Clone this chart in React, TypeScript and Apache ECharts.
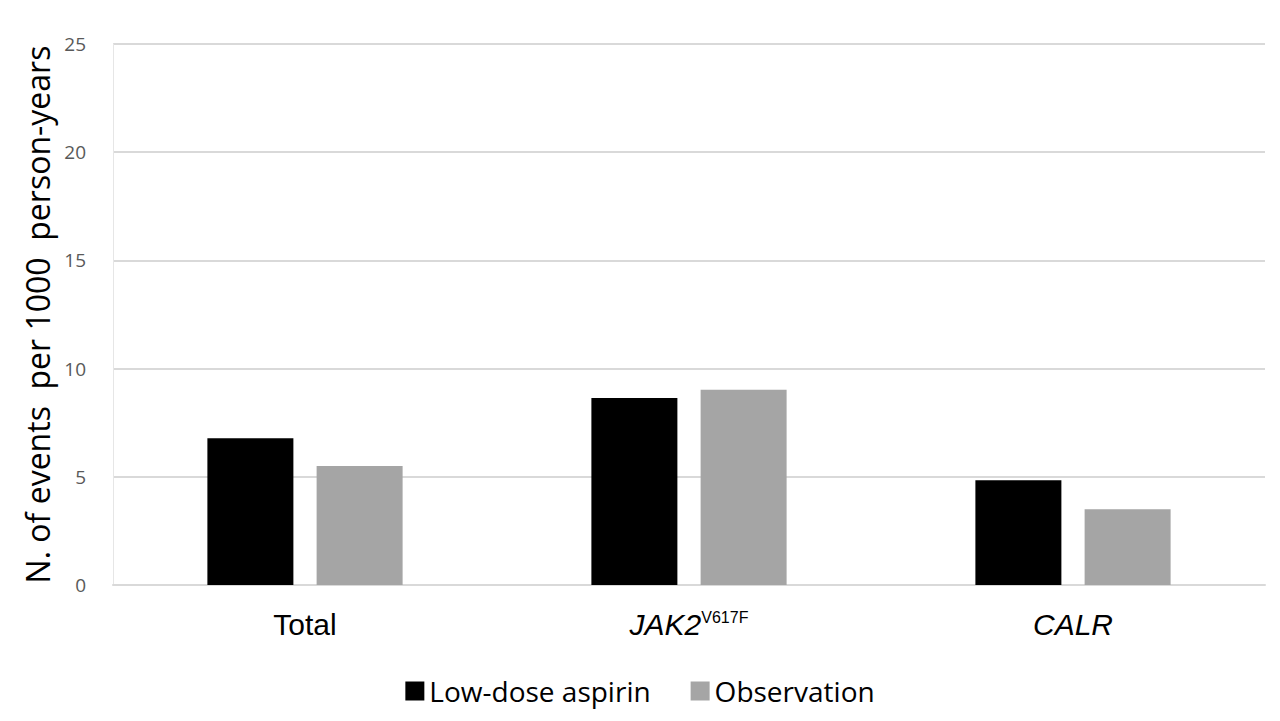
import React, { useEffect, useRef } from "react";
import * as echarts from "echarts";

const categories = ["Total", "JAK2", "CALR"];
const aspirin = [6.78, 8.64, 4.84];
const observation = [5.5, 9.02, 3.5];
const seriesNames = ["Low-dose aspirin", "Observation"];
const yTicks = { min: 0, max: 25, interval: 5 };
const yName = "N. of events  per 1000  person-years";

export default function App() {
  const ref = useRef<HTMLDivElement>(null);
  useEffect(() => {
    if (!ref.current) return;
    const chart = echarts.init(ref.current, null, { renderer: "svg" });
    chart.setOption({
      animation: false,
      backgroundColor: "#ffffff",
      grid: { left: 113, right: 15, top: 44, bottom: 136 },
      legend: {
        data: seriesNames,
        top: 672,
        left: "center",
        icon: "rect",
        itemWidth: 19,
        itemHeight: 19,
        itemGap: 40,
        textStyle: { fontFamily: "Open Sans", fontSize: 28, color: "#000" },
      },
      xAxis: {
        type: "category",
        data: categories,
        axisLine: { lineStyle: { color: "#d9d9d9", width: 2 } },
        axisTick: { show: false },
        axisLabel: {
          margin: 24,
          formatter: (v: string) => {
            if (v === "JAK2") return "{i|JAK2}{sup|V617F}";
            if (v === "CALR") return "{i|CALR}";
            return "{n|" + v + "}";
          },
          rich: {
            n: { fontFamily: "Liberation Sans", fontSize: 30, color: "#000" },
            i: { fontFamily: "Liberation Sans", fontStyle: "italic", fontSize: 30, color: "#000" },
            sup: { fontFamily: "Liberation Sans", fontSize: 16, color: "#000", verticalAlign: "top", padding: [0, 0, 12, 0] },
          },
        },
      },
      yAxis: {
        type: "value",
        min: yTicks.min,
        max: yTicks.max,
        interval: yTicks.interval,
        name: yName,
        nameLocation: "middle",
        nameGap: 58,
        nameTextStyle: { fontFamily: "Open Sans", fontSize: 32, color: "#000" },
        axisLine: { show: true, lineStyle: { color: "#e6e6e6", width: 1 } },
        axisTick: { show: false },
        axisLabel: { margin: 27, fontFamily: "Open Sans", fontSize: 19, color: "#595959" },
        splitLine: { lineStyle: { color: "#d9d9d9", width: 2 } },
      },
      series: [
        {
          name: seriesNames[0],
          type: "bar",
          data: aspirin,
          itemStyle: { color: "#000000" },
          barWidth: 86,
          barGap: "27%",
        },
        {
          name: seriesNames[1],
          type: "bar",
          data: observation,
          itemStyle: { color: "#a5a5a5" },
          barWidth: 86,
          barGap: "27%",
        },
      ],
    });
    return () => chart.dispose();
  }, []);
  return (
    <div
      ref={ref}
      style={{ position: "fixed", left: 0, top: 0, width: 1280, height: 721, background: "#fff" }}
    />
  );
}
